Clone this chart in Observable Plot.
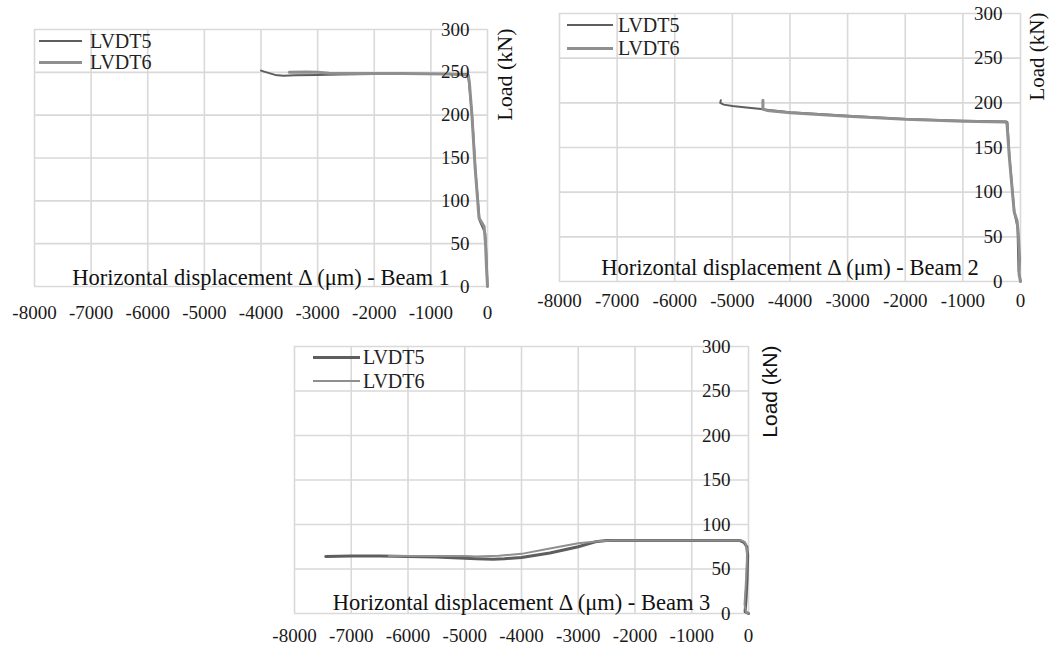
<!DOCTYPE html>
<html><head><meta charset="utf-8">
<script src="https://cdn.jsdelivr.net/npm/d3@7"></script>
<script src="https://cdn.jsdelivr.net/npm/@observablehq/plot@0.6"></script>
<style>
body{margin:0;background:#fff;}
#root{position:relative;width:1053px;height:648px;overflow:hidden;font-family:"Liberation Serif","Times New Roman",serif;}
.panel{position:absolute;}
.leg{position:absolute;font-family:"Liberation Serif","Times New Roman",serif;font-size:20px;color:#222;line-height:20px;white-space:nowrap;}
</style></head><body><div id="root"></div>
<script>
// ---- axes ----
const xTicks = [-8000, -7000, -6000, -5000, -4000, -3000, -2000, -1000, 0];
const yTicks = [0, 50, 100, 150, 200, 250, 300];
const seriesNames = ["LVDT5", "LVDT6"];
const seriesColors = ["#5e5e5e", "#8f8f8f"];

// ---- Beam 1 ----
const b1_LVDT5_disp = [0, -8, -25, -40, -140, -212, -265, -330, -355, -600, -1200, -2000, -2600, -3000, -3400, -3600, -3750, -3900, -4000];
const b1_LVDT5_load = [0, 15, 45, 62, 77, 135, 194, 240, 248, 248, 248, 248, 247.5, 247, 246.5, 246, 247, 250, 252];
const b1_LVDT6_disp = [0, -20, -35, -60, -150, -220, -275, -320, -340, -700, -1500, -2200, -2800, -3000, -3200, -3500];
const b1_LVDT6_load = [0, 25, 50, 70, 80, 140, 200, 238, 247, 248, 248.5, 248.5, 249, 250, 250.5, 250];

// ---- Beam 2 ----
const b2_LVDT5_disp = [0, -10, -35, -52, -104, -190, -226, -240, -1000, -2000, -3000, -3500, -4000, -4500, -4800, -5000, -5150, -5210, -5200];
const b2_LVDT5_load = [0, 5, 12, 61, 76, 139, 178, 179, 180, 182, 185.5, 187.5, 189.5, 193, 195, 196.5, 198, 200, 203];
const b2_LVDT6_disp = [0, -25, -15, -40, -60, -110, -195, -235, -260, -1000, -2000, -3000, -3500, -4000, -4400, -4470, -4470];
const b2_LVDT6_load = [0, 8, 25, 55, 68, 78, 140, 177, 178.5, 179.5, 181.5, 185, 187, 189, 191.5, 193, 203];

// ---- Beam 3 ----
const b3_LVDT5_disp = [0, -60, -45, -25, -15, -30, -80, -150, -300, -1000, -2000, -2500, -2700, -3000, -3500, -4000, -4300, -4500, -4800, -5000, -5500, -6000, -6500, -7000, -7450];
const b3_LVDT5_load = [0, 2, 15, 40, 65, 75, 80, 82, 82, 82, 82, 82, 80.5, 75, 68, 63, 61.5, 61, 61.5, 62, 63.5, 64, 64.5, 64.5, 64];
const b3_LVDT6_disp = [0, -40, -70, -50, -30, -25, -60, -120, -250, -1000, -2000, -2400, -2600, -3000, -3500, -4000, -4400, -4800, -5000, -5500, -6000, -6340];
const b3_LVDT6_load = [0, 1, 10, 30, 55, 72, 80, 82, 82, 82, 82, 82, 81.5, 79, 73, 67, 65, 64, 64.5, 64.5, 64.5, 64.5];

const titles = [
  "Horizontal displacement \u0394 (\u03bcm) - Beam 1",
  "Horizontal displacement \u0394 (\u03bcm) - Beam 2",
  "Horizontal displacement \u0394 (\u03bcm) - Beam 3"
];
const yLabel = "Load (kN)";

function rows(xs, ys) { return xs.map((x, i) => ({x, y: ys[i]})); }

const SERIF = "Liberation Serif, Times New Roman, serif";
const SANS = "Liberation Sans, Arial, sans-serif";

const panels = [
  {left: 0, top: 0, width: 530, height: 330, mL: 34, mT: 29, mR: 43, mB: 44, xPad: 19, titleDy: 9, loadDx: 9, loadFont: SERIF, loadSize: 22,
   s5: rows(b1_LVDT5_disp, b1_LVDT5_load), s6: rows(b1_LVDT6_disp, b1_LVDT6_load), w5: 2, w6: 3, title: titles[0],
   leg: {x1: 39, x2: 82, y: [41, 62], tx: 90}},
  {left: 530, top: 0, width: 523, height: 320, mL: 29, mT: 13, mR: 33, mB: 39, xPad: 12, titleDy: 14, loadDx: 9, loadFont: SERIF, loadSize: 21,
   s5: rows(b2_LVDT5_disp, b2_LVDT5_load), s6: rows(b2_LVDT6_disp, b2_LVDT6_load), w5: 2, w6: 3, title: titles[1],
   leg: {x1: 567, x2: 613, y: [25, 48], tx: 618}},
  {left: 250, top: 330, width: 560, height: 318, mL: 44, mT: 16, mR: 62, mB: 35, xPad: 15, titleDy: 11, loadDx: 14, loadFont: SANS, loadSize: 21,
   s5: rows(b3_LVDT5_disp, b3_LVDT5_load), s6: rows(b3_LVDT6_disp, b3_LVDT6_load), w5: 3, w6: 2, title: titles[2],
   leg: {x1: 313, x2: 360, y: [357, 381], tx: 363}}
];

const root = document.getElementById("root");
const gridStyle = {stroke: "#d9d9d9", strokeOpacity: 1, strokeWidth: 1.6};

panels.forEach(p => {
  const chart = Plot.plot({
    width: p.width, height: p.height,
    marginLeft: p.mL, marginTop: p.mT, marginRight: p.mR, marginBottom: p.mB,
    x: {domain: [-8000, 0], label: null},
    y: {domain: [0, 300], label: null},
    style: {fontFamily: SERIF, background: "transparent", color: "#1a1a1a", overflow: "visible"},
    marks: [
      Plot.gridX(xTicks, gridStyle),
      Plot.gridY(yTicks, gridStyle),
      Plot.line(p.s5, {x: "x", y: "y", stroke: seriesColors[0], strokeWidth: p.w5, strokeLinejoin: "round"}),
      Plot.line(p.s6, {x: "x", y: "y", stroke: seriesColors[1], strokeWidth: p.w6, strokeLinejoin: "round"}),
      Plot.axisX(xTicks, {tickSize: 0, tickPadding: p.xPad, fontSize: 19, fontFamily: SERIF, label: null, tickFormat: d => String(d)}),
      Plot.axisY(yTicks, {anchor: "right", tickSize: 0, tickPadding: -18, textAnchor: "end", fontSize: 19, fontFamily: SERIF, label: null, tickFormat: d => String(d)}),
      Plot.text([p.title], {frameAnchor: "bottom", dy: -p.titleDy, fontSize: 22.5, fontFamily: SERIF, fill: "#111", lineAnchor: "middle"}),
      Plot.text([yLabel], {frameAnchor: "top-right", rotate: -90, textAnchor: "end", dx: p.loadDx, dy: -1, fontSize: p.loadSize, fontFamily: p.loadFont, fill: "#111"})
    ]
  });
  const div = document.createElement("div");
  div.className = "panel";
  div.style.left = p.left + "px";
  div.style.top = p.top + "px";
  div.appendChild(chart);
  root.appendChild(div);

  // legend (HTML overlay)
  seriesNames.forEach((name, i) => {
    const ln = document.createElement("div");
    ln.style.position = "absolute";
    ln.style.left = p.leg.x1 + "px";
    const w = i === 0 ? p.w5 : p.w6;
    ln.style.top = (p.leg.y[i] - w / 2) + "px";
    ln.style.width = (p.leg.x2 - p.leg.x1) + "px";
    ln.style.height = w + "px";
    ln.style.background = seriesColors[i];
    root.appendChild(ln);
    const t = document.createElement("div");
    t.className = "leg";
    t.textContent = name;
    t.style.left = p.leg.tx + "px";
    t.style.top = (p.leg.y[i] - 10) + "px";
    root.appendChild(t);
  });
});
</script>
</body></html>
